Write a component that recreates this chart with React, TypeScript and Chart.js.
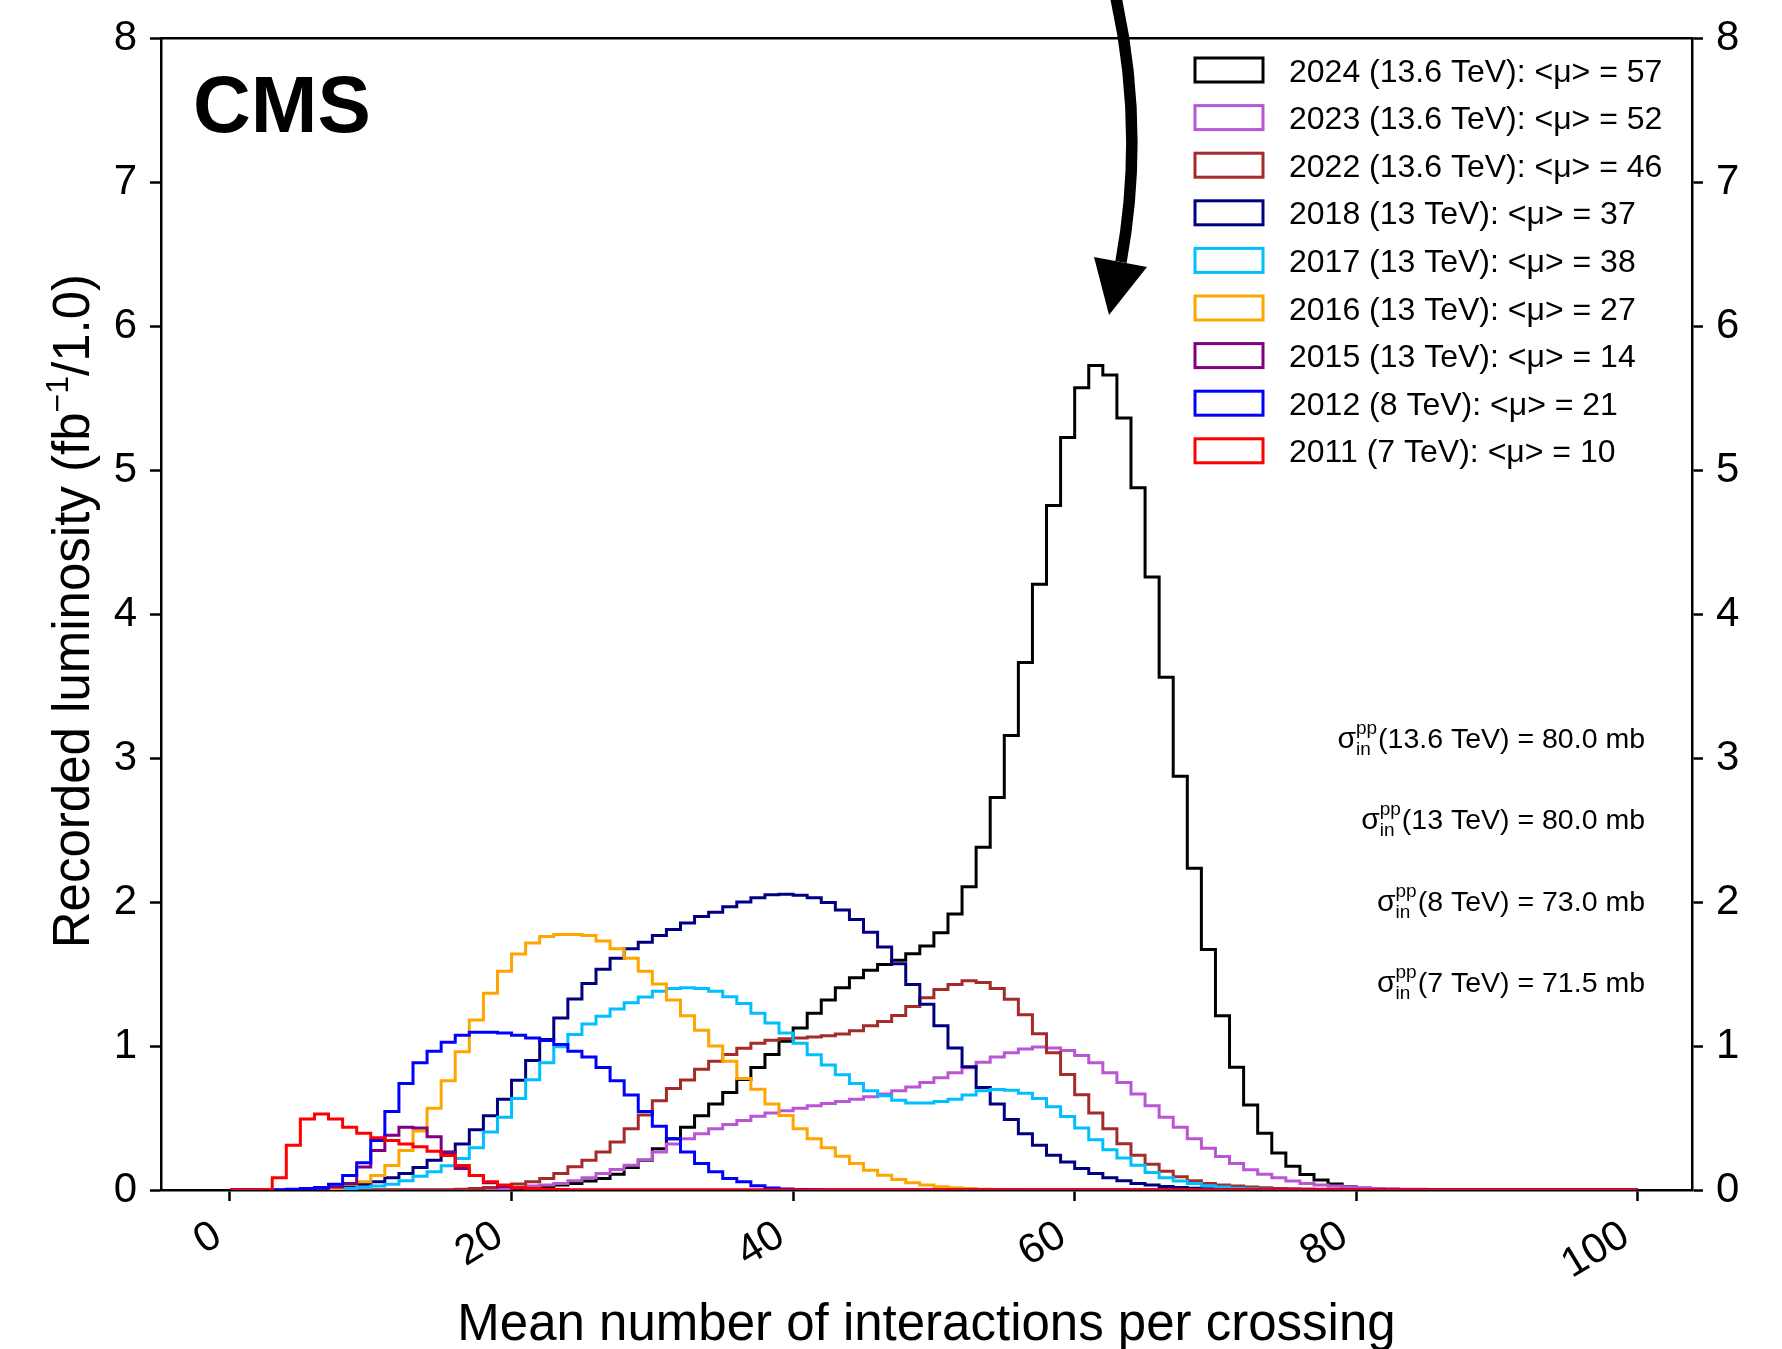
import { useEffect, useRef } from 'react';
import { Chart, registerables } from 'chart.js';

Chart.register(...registerables);

const FONT = '"Liberation Sans", Arial, Helvetica, sans-serif';
Chart.defaults.font.family = FONT;

const WIDTH = 1782;
const HEIGHT = 1349;

// Histogram binning: unit-width bins from 0 to 100
const BIN_COUNT = 100;
const X_MIN = -4.9;
const X_MAX = 103.85;
const Y_MIN = 0;
const Y_MAX = 8;

const xTickValues = [0, 20, 40, 60, 80, 100];
const yTickValues = [0, 1, 2, 3, 4, 5, 6, 7, 8];

const seriesLabels = [
  '2024 (13.6 TeV): <μ> = 57',
  '2023 (13.6 TeV): <μ> = 52',
  '2022 (13.6 TeV): <μ> = 46',
  '2018 (13 TeV): <μ> = 37',
  '2017 (13 TeV): <μ> = 38',
  '2016 (13 TeV): <μ> = 27',
  '2015 (13 TeV): <μ> = 14',
  '2012 (8 TeV): <μ> = 21',
  '2011 (7 TeV): <μ> = 10',
];

const seriesColors = [
  '#000000',
  '#BA55D3',
  '#A52A2A',
  '#000080',
  '#00BFFF',
  '#FFA500',
  '#800080',
  '#0000FF',
  '#FF0000',
];

// Recorded luminosity per bin (fb^-1), bins starting at 0; missing tail bins are empty
const lumi2024 = [
  0, 0, 0, 0, 0, 0, 0, 0, 0, 0,
  0, 0, 0, 0, 0, 0, 0, 0.004, 0.005, 0.006,
  0.008, 0.012, 0.02, 0.034, 0.046, 0.062, 0.08, 0.11, 0.156, 0.207,
  0.287, 0.356, 0.436, 0.516, 0.597, 0.677, 0.767, 0.85, 0.941, 1.033,
  1.125, 1.228, 1.32, 1.405, 1.474, 1.527, 1.566, 1.595, 1.641, 1.694,
  1.786, 1.917, 2.107, 2.38, 2.727, 3.156, 3.664, 4.208, 4.755, 5.227,
  5.572, 5.726, 5.66, 5.362, 4.877, 4.258, 3.561, 2.873, 2.235, 1.67,
  1.21, 0.853, 0.59, 0.395, 0.257, 0.165, 0.108, 0.069, 0.041, 0.023,
  0.012, 0.007, 0.004, 0.003, 0.002,
];

const lumi2023 = [
  0, 0, 0, 0, 0, 0, 0, 0, 0, 0,
  0, 0, 0, 0, 0, 0, 0, 0, 0.005, 0.008,
  0.018, 0.028, 0.034, 0.046, 0.064, 0.085, 0.115, 0.142, 0.172, 0.21,
  0.264, 0.32, 0.356, 0.39, 0.425, 0.455, 0.482, 0.512, 0.535, 0.551,
  0.567, 0.585, 0.601, 0.615, 0.631, 0.647, 0.666, 0.689, 0.716, 0.746,
  0.78, 0.815, 0.849, 0.888, 0.923, 0.953, 0.98, 0.994, 0.987, 0.969,
  0.934, 0.884, 0.815, 0.746, 0.666, 0.585, 0.505, 0.436, 0.356, 0.29,
  0.232, 0.184, 0.14, 0.11, 0.085, 0.062, 0.046, 0.034, 0.028, 0.02,
  0.015, 0.011, 0.008, 0.006, 0.005, 0.004, 0.003, 0.002, 0.002, 0.002,
  0.002,
];

const lumi2022 = [
  0, 0, 0, 0, 0, 0, 0, 0, 0, 0,
  0, 0, 0, 0, 0, 0, 0.005, 0.01, 0.018, 0.028,
  0.041, 0.057, 0.08, 0.115, 0.161, 0.207, 0.264, 0.333, 0.425, 0.521,
  0.62, 0.705, 0.764, 0.838, 0.895, 0.941, 0.985, 1.02, 1.04, 1.05,
  1.056, 1.063, 1.072, 1.083, 1.106, 1.14, 1.17, 1.212, 1.274, 1.336,
  1.393, 1.428, 1.453, 1.442, 1.4, 1.325, 1.217, 1.086, 0.953, 0.803,
  0.661, 0.535, 0.425, 0.321, 0.241, 0.179, 0.131, 0.092, 0.064, 0.046,
  0.034, 0.028, 0.02, 0.015, 0.011, 0.009, 0.007, 0.006, 0.005, 0.004,
  0.004, 0.003, 0.003, 0.003, 0.002, 0.002, 0.002, 0.002, 0.002, 0.002,
];

const lumi2018 = [
  0, 0, 0, 0, 0, 0, 0.005, 0.018, 0.032, 0.04,
  0.057, 0.085, 0.115, 0.156, 0.207, 0.264, 0.32, 0.418, 0.516, 0.63,
  0.762, 0.9, 1.045, 1.194, 1.327, 1.435, 1.534, 1.61, 1.676, 1.72,
  1.768, 1.81, 1.855, 1.9, 1.93, 1.967, 2.0, 2.03, 2.05, 2.055,
  2.048, 2.03, 1.997, 1.944, 1.878, 1.79, 1.687, 1.572, 1.428, 1.29,
  1.14, 0.987, 0.856, 0.712, 0.597, 0.489, 0.39, 0.31, 0.241, 0.195,
  0.149, 0.115, 0.085, 0.064, 0.046, 0.034, 0.025, 0.018, 0.012, 0.008,
  0.005, 0.004, 0.003, 0.002,
];

const lumi2017 = [
  0, 0, 0, 0, 0, 0, 0, 0.004, 0.01, 0.018,
  0.028, 0.04, 0.064, 0.096, 0.126, 0.168, 0.218, 0.294, 0.402, 0.505,
  0.636, 0.765, 0.884, 0.995, 1.08, 1.153, 1.206, 1.257, 1.3, 1.34,
  1.38, 1.4, 1.405, 1.4, 1.38, 1.343, 1.295, 1.228, 1.16, 1.09,
  1.02, 0.94, 0.868, 0.8, 0.74, 0.69, 0.654, 0.624, 0.604, 0.604,
  0.615, 0.631, 0.659, 0.69, 0.698, 0.693, 0.672, 0.636, 0.579, 0.51,
  0.43, 0.349, 0.28, 0.223, 0.172, 0.122, 0.085, 0.062, 0.046, 0.03,
  0.02, 0.013, 0.008, 0.005, 0.003, 0.002,
];

const lumi2016 = [
  0, 0, 0, 0, 0, 0, 0.003, 0.01, 0.04, 0.057,
  0.1, 0.17, 0.275, 0.41, 0.567, 0.758, 0.96, 1.18, 1.366, 1.52,
  1.64, 1.715, 1.76, 1.775, 1.775, 1.768, 1.73, 1.676, 1.61, 1.52,
  1.43, 1.32, 1.21, 1.11, 1.0, 0.895, 0.775, 0.7, 0.597, 0.517,
  0.425, 0.356, 0.294, 0.234, 0.184, 0.138, 0.103, 0.073, 0.05, 0.034,
  0.023, 0.015, 0.01, 0.006, 0.004, 0.002,
];

const lumi2015 = [
  0, 0, 0, 0, 0, 0, 0.003, 0.02, 0.046, 0.16,
  0.275, 0.38, 0.436, 0.43, 0.37, 0.26, 0.15, 0.1, 0.05, 0.025,
  0.012, 0.006, 0.003,
];

const lumi2012 = [
  0, 0, 0, 0, 0.005, 0.01, 0.018, 0.04, 0.1, 0.19,
  0.344, 0.546, 0.74, 0.884, 0.964, 1.026, 1.074, 1.095, 1.095, 1.09,
  1.074, 1.056, 1.038, 1.01, 0.964, 0.923, 0.85, 0.758, 0.66, 0.546,
  0.443, 0.356, 0.264, 0.184, 0.126, 0.08, 0.057, 0.03, 0.014, 0.007,
  0.004, 0.002,
];

const lumi2011 = [
  0, 0, 0.002, 0.085, 0.31, 0.494, 0.528, 0.494, 0.436, 0.395,
  0.363, 0.344, 0.32, 0.3, 0.27, 0.24, 0.17, 0.1, 0.057, 0.034,
  0.018, 0.01, 0.005, 0.003,
];

const seriesValues = [
  lumi2024, lumi2023, lumi2022, lumi2018, lumi2017,
  lumi2016, lumi2015, lumi2012, lumi2011,
];

const sigmaLabels = [
  '(13.6 TeV) = 80.0 mb',
  '(13 TeV) = 80.0 mb',
  '(8 TeV) = 73.0 mb',
  '(7 TeV) = 71.5 mb',
];

const experimentLabel = 'CMS';
const xTitle = 'Mean number of interactions per crossing';
const yTitleParts = ['Recorded luminosity (fb', '−1', '/1.0)'];

// Outline of a histogram: both edges of every bin
function histogramOutline(values: number[]) {
  const pts: { x: number; y: number }[] = [];
  for (let i = 0; i < BIN_COUNT; i++) {
    const v = values[i] ?? 0;
    pts.push({ x: i, y: v }, { x: i + 1, y: v });
  }
  return pts;
}

const decorations = {
  id: 'decorations',
  afterDraw(chart: any) {
    const { ctx, chartArea: area } = chart;
    ctx.save();

    // closing line of the frame along the top
    ctx.strokeStyle = '#000';
    ctx.lineWidth = 2.5;
    ctx.beginPath();
    ctx.moveTo(area.left - 1.25, area.top);
    ctx.lineTo(area.right + 1.25, area.top);
    ctx.stroke();

    // experiment label
    ctx.fillStyle = '#000';
    ctx.textBaseline = 'alphabetic';
    ctx.textAlign = 'left';
    ctx.font = `bold 80px ${FONT}`;
    ctx.fillText(experimentLabel, 193, 132);

    // legend: open boxes with the series colour
    const boxX = 1195;
    const boxW = 68;
    const boxH = 24;
    const textX = 1289;
    const row0 = 70;
    const rowStep = 47.6;
    ctx.font = `32px ${FONT}`;
    seriesLabels.forEach((label, i) => {
      const cy = row0 + i * rowStep;
      ctx.strokeStyle = seriesColors[i];
      ctx.lineWidth = 3;
      ctx.strokeRect(boxX, cy - boxH / 2, boxW, boxH);
      ctx.fillStyle = '#000';
      ctx.fillText(label, textX, cy + 11.5);
    });

    // inelastic cross sections used for each energy
    const sigmaRight = 1645;
    const sigmaBase0 = 748;
    const sigmaStep = 81.3;
    sigmaLabels.forEach((txt, i) => {
      const base = sigmaBase0 + i * sigmaStep;
      ctx.fillStyle = '#000';
      ctx.font = `28.5px ${FONT}`;
      ctx.textAlign = 'right';
      ctx.fillText(txt, sigmaRight, base);
      const w = ctx.measureText(txt).width;
      ctx.font = `19px ${FONT}`;
      const sw = Math.max(ctx.measureText('pp').width, ctx.measureText('in').width);
      const scriptLeft = sigmaRight - w - sw - 1;
      ctx.textAlign = 'left';
      ctx.fillText('pp', scriptLeft, base - 14);
      ctx.fillText('in', scriptLeft, base + 7);
      ctx.font = `30px ${FONT}`;
      ctx.textAlign = 'right';
      ctx.fillText('σ', scriptLeft, base);
    });

    // x axis title
    ctx.textAlign = 'center';
    ctx.font = `51px ${FONT}`;
    ctx.fillText(xTitle, (area.left + area.right) / 2, 1340);

    // y axis title with superscript
    ctx.save();
    ctx.translate(89, (area.top + area.bottom) / 2 - 3);
    ctx.rotate(-Math.PI / 2);
    ctx.textAlign = 'left';
    const big = `51px ${FONT}`;
    const small = `32px ${FONT}`;
    ctx.font = big;
    const w1 = ctx.measureText(yTitleParts[0]).width;
    const w3 = ctx.measureText(yTitleParts[2]).width;
    ctx.font = small;
    const w2 = ctx.measureText(yTitleParts[1]).width;
    let x = -(w1 + w2 + w3) / 2;
    ctx.font = big;
    ctx.fillText(yTitleParts[0], x, 0);
    x += w1;
    ctx.font = small;
    ctx.fillText(yTitleParts[1], x, -21);
    x += w2;
    ctx.font = big;
    ctx.fillText(yTitleParts[2], x, 0);
    ctx.restore();

    // curved arrow pointing at the 2024 peak
    ctx.strokeStyle = '#000';
    ctx.lineWidth = 11.5;
    ctx.lineCap = 'butt';
    ctx.beginPath();
    ctx.moveTo(1116, -2);
    ctx.quadraticCurveTo(1145, 130, 1121, 262);
    ctx.stroke();
    ctx.fillStyle = '#000';
    ctx.beginPath();
    ctx.moveTo(1094, 257);
    ctx.lineTo(1147, 267);
    ctx.lineTo(1109, 315);
    ctx.closePath();
    ctx.fill();

    ctx.restore();
  },
};

const axisGrid = {
  display: true,
  drawOnChartArea: false,
  drawTicks: true,
  tickLength: 11,
  tickWidth: 2.5,
  tickColor: '#000',
  color: '#000',
};

const axisBorder = { display: true, color: '#000', width: 2.5 };

export default function App() {
  const canvasRef = useRef<HTMLCanvasElement | null>(null);

  useEffect(() => {
    const canvas = canvasRef.current;
    if (!canvas) return;

    const datasets = seriesValues.map((values, i) => ({
      label: seriesLabels[i],
      data: histogramOutline(values),
      borderColor: seriesColors[i],
      backgroundColor: seriesColors[i],
      borderWidth: 3,
      pointRadius: 0,
      fill: false,
      tension: 0,
      borderJoinStyle: 'miter' as const,
      borderCapStyle: 'butt' as const,
      order: seriesValues.length - 1 - i,
      yAxisID: 'y',
    }));

    const yTicks = {
      color: '#000',
      font: { family: FONT, size: 42 },
      padding: 13,
    };

    const chart = new Chart(canvas, {
      type: 'line',
      data: { datasets },
      options: {
        animation: false,
        responsive: false,
        devicePixelRatio: 1,
        layout: { padding: { top: 29, left: 0, right: 0, bottom: 0 } },
        plugins: {
          legend: { display: false },
          tooltip: { enabled: false },
        },
        scales: {
          x: {
            type: 'linear',
            min: X_MIN,
            max: X_MAX,
            afterBuildTicks: (s: any) => {
              s.ticks = xTickValues.map((v) => ({ value: v }));
            },
            afterFit: (s: any) => {
              s.height = HEIGHT - 1190;
            },
            grid: axisGrid,
            border: axisBorder,
            ticks: {
              color: '#000',
              font: { family: FONT, size: 42 },
              padding: 10,
              minRotation: 31,
              maxRotation: 31,
              autoSkip: false,
              labelOffset: -12,
            },
          },
          y: {
            type: 'linear',
            position: 'left',
            min: Y_MIN,
            max: Y_MAX,
            afterBuildTicks: (s: any) => {
              s.ticks = yTickValues.map((v) => ({ value: v }));
            },
            afterFit: (s: any) => {
              s.width = 161;
            },
            grid: axisGrid,
            border: axisBorder,
            ticks: yTicks,
          },
          y2: {
            type: 'linear',
            position: 'right',
            min: Y_MIN,
            max: Y_MAX,
            afterBuildTicks: (s: any) => {
              s.ticks = yTickValues.map((v) => ({ value: v }));
            },
            afterFit: (s: any) => {
              s.width = WIDTH - 1692;
            },
            grid: axisGrid,
            border: axisBorder,
            ticks: yTicks,
          },
        },
      },
      plugins: [decorations],
    });

    return () => {
      chart.destroy();
    };
  }, []);

  return (
    <div style={{ position: 'absolute', left: 0, top: 0, width: WIDTH, height: HEIGHT, background: '#fff' }}>
      <canvas ref={canvasRef} width={WIDTH} height={HEIGHT} style={{ display: 'block', width: WIDTH, height: HEIGHT }} />
    </div>
  );
}
